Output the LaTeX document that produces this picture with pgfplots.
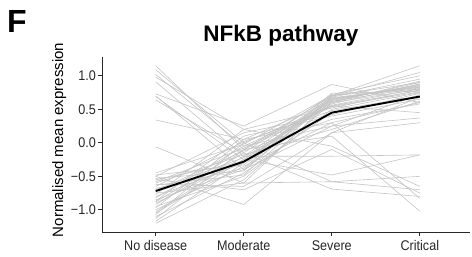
\documentclass[border=0pt]{standalone}
\usepackage{fontspec}
\setmainfont{Liberation Sans}
\newfontfamily\tickfont{Liberation Sans}[FakeStretch=0.9]
\usepackage{pgfplots}
\pgfplotsset{compat=1.18}
\definecolor{gline}{RGB}{196,196,196}
\definecolor{axc}{RGB}{40,40,40}
\tikzset{g/.style={draw=gline, line width=0.6pt, mark=none}}
\begin{document}
\begin{tikzpicture}
\path[use as bounding box] (0,0) rectangle (472pt,257pt);
\node[anchor=base west, font=\fontsize{32}{36}\selectfont\bfseries, inner sep=0pt] at (7pt,224pt) {F};
\node[anchor=base, font=\fontsize{22.5}{26}\selectfont\bfseries, inner sep=0pt] at (281pt,215pt) {NFkB pathway};
\node[anchor=base, rotate=90, font=\fontsize{15}{17}\selectfont, inner sep=0pt] at (63pt,117pt) {Normalised mean expression};
\begin{axis}[
  at={(102pt,25pt)}, anchor=south west,
  scale only axis, width=368pt, height=175pt,
  xmin=-0.61, xmax=3.57, ymin=-1.33, ymax=1.28,
  axis x line*=bottom, axis y line*=left,
  axis line style={axc, line width=0.8pt, -},
  xtick={0,1,2,3}, xticklabels={No disease,Moderate,Severe,Critical},
  ytick={-1,-0.5,0,0.5,1}, yticklabels={−1.0,−0.5,0.0,0.5,1.0},
  tick style={axc, line width=0.8pt},
  tick align=outside, major tick length=4pt,
  ticklabel style={font=\tickfont\fontsize{14}{16}\selectfont, text=black!85},
  yticklabel style={inner sep=1pt, xshift=-1pt},
  xticklabel style={yshift=-1pt},
  clip=false,
]
% genes with decreasing / irregular profiles
\addplot[g] coordinates {(0,1.15)(1,-0.10)(2,0.10)(3,-1.02)};
\addplot[g] coordinates {(0,1.09)(1,0.00)(2,-0.58)(3,-0.70)};
\addplot[g] coordinates {(0,0.98)(1,0.20)(2,-0.05)(3,-0.65)};
\addplot[g] coordinates {(0,0.91)(1,-0.20)(2,-0.20)(3,-0.18)};
\addplot[g] coordinates {(0,0.73)(1,0.25)(2,0.87)(3,0.60)};
\addplot[g] coordinates {(0,0.69)(1,-0.25)(2,-0.48)(3,-0.18)};
\addplot[g] coordinates {(0,0.64)(1,-0.15)(2,-0.69)(3,-0.80)};
\addplot[g] coordinates {(0,0.34)(1,0.05)(2,0.30)(3,-0.83)};
\addplot[g] coordinates {(0,0.70)(1,-0.40)(2,0.25)(3,0.37)};
\addplot[g] coordinates {(0,-0.06)(1,-0.60)(2,-0.58)(3,-0.50)};
\addplot[g] coordinates {(0,-0.50)(1,-0.92)(2,0.15)(3,0.30)};
\addplot[g] coordinates {(0,-0.55)(1,-0.70)(2,-0.10)(3,-0.75)};
\addplot[g] coordinates {(0,1.02)(1,-0.05)(2,0.55)(3,0.45)};
% genes with increasing profiles
\addplot[g] coordinates {(0,-1.20)(1,-0.55)(2,0.60)(3,0.80)};
\addplot[g] coordinates {(0,-1.17)(1,-0.30)(2,0.65)(3,0.85)};
\addplot[g] coordinates {(0,-1.13)(1,-0.10)(2,0.70)(3,0.90)};
\addplot[g] coordinates {(0,-1.10)(1,-0.45)(2,0.45)(3,0.70)};
\addplot[g] coordinates {(0,-1.07)(1,0.00)(2,0.55)(3,0.78)};
\addplot[g] coordinates {(0,-1.03)(1,-0.20)(2,0.68)(3,0.95)};
\addplot[g] coordinates {(0,-1.00)(1,-0.35)(2,0.30)(3,0.60)};
\addplot[g] coordinates {(0,-0.97)(1,0.05)(2,0.62)(3,0.82)};
\addplot[g] coordinates {(0,-0.95)(1,-0.50)(2,0.50)(3,0.75)};
\addplot[g] coordinates {(0,-0.92)(1,-0.15)(2,0.72)(3,1.00)};
\addplot[g] coordinates {(0,-0.90)(1,-0.25)(2,0.58)(3,0.88)};
\addplot[g] coordinates {(0,-0.87)(1,0.10)(2,0.40)(3,0.65)};
\addplot[g] coordinates {(0,-0.85)(1,-0.40)(2,0.66)(3,0.83)};
\addplot[g] coordinates {(0,-0.82)(1,-0.05)(2,0.25)(3,0.72)};
\addplot[g] coordinates {(0,-0.80)(1,-0.30)(2,0.70)(3,1.15)};
\addplot[g] coordinates {(0,-0.77)(1,0.20)(2,0.52)(3,0.79)};
\addplot[g] coordinates {(0,-0.75)(1,-0.60)(2,0.64)(3,0.86)};
\addplot[g] coordinates {(0,-0.72)(1,-0.12)(2,0.35)(3,0.58)};
\addplot[g] coordinates {(0,-0.70)(1,-0.22)(2,0.60)(3,0.92)};
\addplot[g] coordinates {(0,-0.68)(1,-0.38)(2,0.74)(3,0.77)};
\addplot[g] coordinates {(0,-0.65)(1,0.02)(2,0.48)(3,0.70)};
\addplot[g] coordinates {(0,-0.63)(1,-0.48)(2,0.67)(3,0.84)};
\addplot[g] coordinates {(0,-0.60)(1,-0.18)(2,0.20)(3,0.62)};
\addplot[g] coordinates {(0,-0.58)(1,-0.08)(2,0.56)(3,0.81)};
\addplot[g] coordinates {(0,-0.55)(1,-0.28)(2,0.63)(3,0.87)};
\addplot[g] coordinates {(0,-0.53)(1,-0.42)(2,0.69)(3,1.05)};
\addplot[g] coordinates {(0,-0.50)(1,0.15)(2,0.42)(3,0.74)};
\addplot[g] coordinates {(0,-0.48)(1,-0.33)(2,0.61)(3,0.90)};
\addplot[g] coordinates {(0,-0.45)(1,-0.02)(2,0.71)(3,0.80)};
\addplot[g] coordinates {(0,-0.62)(1,-0.65)(2,0.15)(3,0.68)};
\addplot[g] coordinates {(0,-0.88)(1,-0.10)(2,0.54)(3,0.76)};
\addplot[g] coordinates {(0,-1.05)(1,-0.25)(2,0.66)(3,0.83)};
% mean profile
\addplot[draw=black, line width=1.9pt, mark=none] coordinates {(0,-0.72)(1,-0.28)(2,0.45)(3,0.69)};
\end{axis}
\end{tikzpicture}
\end{document}
